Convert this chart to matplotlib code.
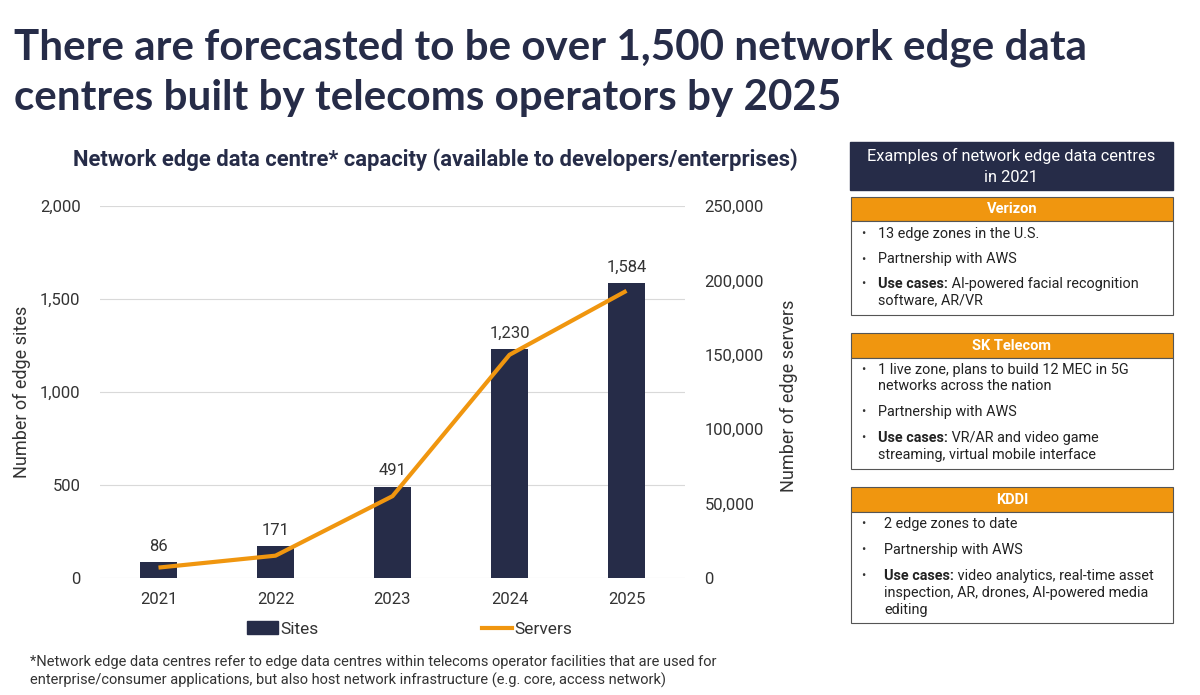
import matplotlib
matplotlib.use("Agg")
import matplotlib.pyplot as plt
import numpy as np
from matplotlib.patches import Rectangle
from matplotlib.lines import Line2D
from matplotlib.ticker import FuncFormatter

years = ['2021', '2022', '2023', '2024', '2025']
sites = [86, 171, 491, 1230, 1584]
servers = [7000, 15000, 55000, 150000, 193000]

NAVY = '#262c48'
ORANGE = '#f0960f'
GRID = '#d9d9d9'
TXT = '#333333'

W, H = 1200, 695
plt.rcParams['font.family'] = ['Roboto', 'DejaVu Sans']
fig = plt.figure(figsize=(12, 6.95), dpi=100)


def fx(px):
    return px / W


def fy(py):
    return 1 - py / H


# titles
fig.text(fx(14), fy(48), 'There are forecasted to be over 1,500 network edge data',
         family='Lato', weight='bold', fontsize=30.3, color=NAVY, va='center')
fig.text(fx(14), fy(98), 'centres built by telecoms operators by 2025',
         family='Lato', weight='bold', fontsize=30.3, color=NAVY, va='center')
fig.text(fx(435), fy(160), 'Network edge data centre* capacity (available to developers/enterprises)',
         weight='bold', fontsize=15.8, color=NAVY, ha='center', va='center')

# chart
ax = fig.add_axes([fx(100), fy(578), fx(685) - fx(100), fy(206) - fy(578)])
x = np.arange(len(years))
ax.bar(x, sites, width=0.32, color=NAVY, zorder=2)
for xi, v in zip(x, sites):
    ax.text(xi, v + 45, f'{v:,}', ha='center', va='bottom', fontsize=12, color=TXT)
ax.set_xlim(-0.5, 4.5)
ax.set_ylim(0, 2000)
ax.set_yticks([0, 500, 1000, 1500, 2000])
ax.yaxis.set_major_formatter(FuncFormatter(lambda v, p: f'{int(v):,}'))
ax.set_xticks(x, years)
ax.grid(axis='y', color=GRID, lw=0.8, zorder=0)
for s in ax.spines.values():
    s.set_visible(False)
ax.tick_params(length=0, labelsize=12, labelcolor=TXT, pad=14)
ax.tick_params(axis='x', pad=10)
ax.set_ylabel('Number of edge sites', fontsize=13, color=TXT, va='center')
ax.yaxis.set_label_coords((22 - 100) / 585, 0.5)

ax2 = ax.twinx()
ax2.plot(x, servers, color=ORANGE, lw=3, solid_capstyle='butt', zorder=3)
ax2.set_ylim(0, 250000)
ax2.set_yticks([0, 50000, 100000, 150000, 200000, 250000])
ax2.yaxis.set_major_formatter(FuncFormatter(lambda v, p: f'{int(v):,}'))
for s in ax2.spines.values():
    s.set_visible(False)
ax2.tick_params(length=0, labelsize=12, labelcolor=TXT, pad=14)
ax2.set_ylabel('Number of edge servers', fontsize=13, color=TXT, va='center')
ax2.yaxis.set_label_coords((789 - 100) / 585, 0.49)

# legend
handles = [Rectangle((0, 0), 1, 1, color=NAVY),
           Line2D([0], [0], color=ORANGE, lw=3)]
fig.legend(handles, ['Sites', 'Servers'], loc='center', bbox_to_anchor=(fx(410), fy(629)),
           ncol=2, frameon=False, fontsize=12.5, handlelength=1.75, handletextpad=0.15,
           columnspacing=9.4, labelcolor=TXT)

# footnote
fig.text(fx(30), fy(662), '*Network edge data centres refer to edge data centres within telecoms operator facilities that are used for',
         fontsize=10.5, color=TXT, va='center')
fig.text(fx(30), fy(680), 'enterprise/consumer applications, but also host network infrastructure (e.g. core, access network)',
         fontsize=10.5, color=TXT, va='center')

# right panel
fig.patches.append(Rectangle((fx(850), fy(190)), fx(1173) - fx(850), fy(142) - fy(190),
                             transform=fig.transFigure, color=NAVY))
fig.text(fx(1011), fy(156), 'Examples of network edge data centres', color='white',
         fontsize=11.8, ha='center', va='center')
fig.text(fx(1011), fy(177), 'in 2021', color='white', fontsize=11.8, ha='center', va='center')

renderer = fig.canvas.get_renderer()

panels = [
    ('Verizon', 197, 221, 315, 878, [
        (None, '13 edge zones in the U.S.', 234),
        (None, 'Partnership with AWS', 259),
        ('Use cases:', ' AI-powered facial recognition', 284),
        (None, 'software, AR/VR', 300),
    ]),
    ('SK Telecom', 333, 358, 469, 878, [
        (None, '1 live zone, plans to build 12 MEC in 5G', 370),
        (None, 'networks across the nation', 386),
        (None, 'Partnership with AWS', 412),
        ('Use cases:', ' VR/AR and video game', 438),
        (None, 'streaming, virtual mobile interface', 455),
    ]),
    ('KDDI', 487, 512, 623, 884, [
        (None, '2 edge zones to date', 524),
        (None, 'Partnership with AWS', 550),
        ('Use cases:', ' video analytics, real-time asset', 576),
        (None, 'inspection, AR, drones, AI-powered media', 593),
        (None, 'editing', 610),
    ]),
]

for name, top, mid, bottom, tx, lines in panels:
    fig.patches.append(Rectangle((fx(851), fy(mid)), fx(1173) - fx(851), fy(top) - fy(mid),
                                 transform=fig.transFigure, facecolor=ORANGE,
                                 edgecolor='#555555', lw=0.8))
    fig.patches.append(Rectangle((fx(851), fy(bottom)), fx(1173) - fx(851), fy(mid) - fy(bottom),
                                 transform=fig.transFigure, facecolor='white',
                                 edgecolor='#555555', lw=0.8))
    fig.text(fx(1012), fy((top + mid) / 2), name, color='white', weight='bold',
             fontsize=10.5, ha='center', va='center')
    prev = None
    for bold, rest, py in lines:
        if prev is None or py - prev > 20:
            fig.text(fx(861), fy(py), '•', fontsize=9, color=TXT, va='center')
        if bold:
            t = fig.text(fx(tx), fy(py), bold, weight='bold', fontsize=10.4, color='#222222', va='center')
            bb = t.get_window_extent(renderer)
            fig.text(bb.x1 / W, fy(py), rest, fontsize=10.4, color='#222222', va='center')
        else:
            fig.text(fx(tx), fy(py), rest, fontsize=10.4, color='#222222', va='center')
        prev = py

fig.savefig('out.png', dpi=100)
